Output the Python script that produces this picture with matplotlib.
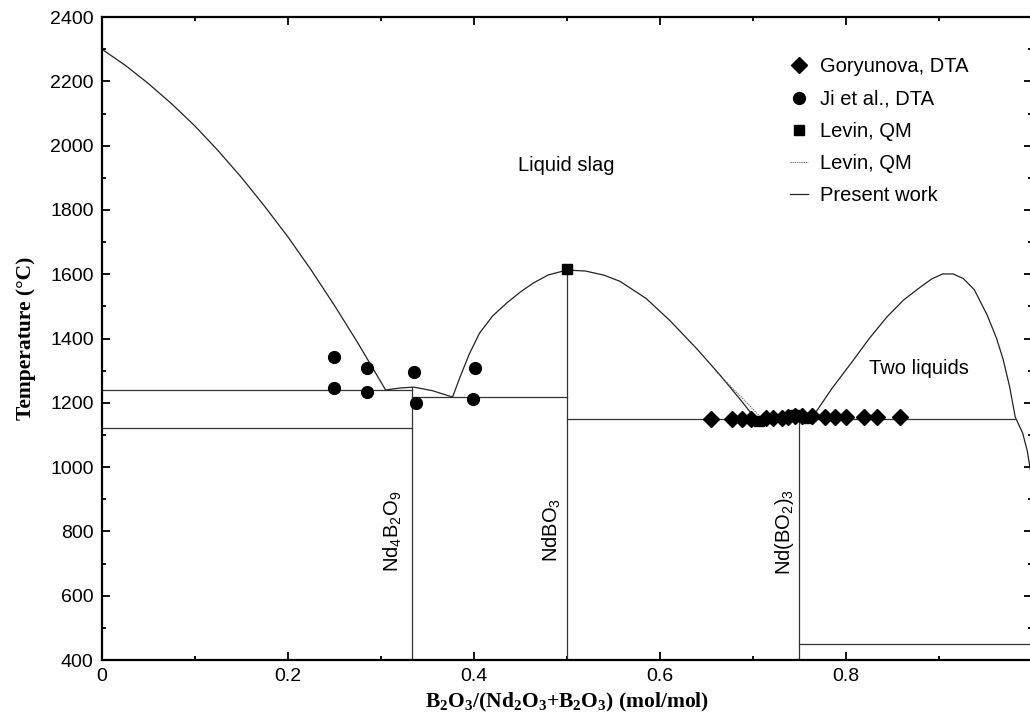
import numpy as np
import matplotlib
matplotlib.use('Agg')
import matplotlib.pyplot as plt
from matplotlib.ticker import MultipleLocator

plt.rcParams['font.family'] = ['Liberation Sans', 'DejaVu Sans']
plt.rcParams['mathtext.default'] = 'regular'

# ---------- 数据 ----------
# 液相线 (Present work)
liq1_x = [0.0, 0.025, 0.05, 0.075, 0.10, 0.125, 0.15, 0.175, 0.20, 0.225, 0.25, 0.275, 0.305]
liq1_T = [2300, 2250, 2193, 2130, 2061, 1984, 1901, 1811, 1716, 1613, 1503, 1387, 1240]

liq2_x = [0.305, 0.32, 0.335, 0.355, 0.377]
liq2_T = [1240, 1246, 1249, 1238, 1218]

liq3_x = [0.377, 0.385, 0.395, 0.406, 0.42, 0.435, 0.45, 0.464, 0.48, 0.50,
          0.52, 0.54, 0.557, 0.585, 0.611, 0.64, 0.665, 0.685, 0.703]
liq3_T = [1218, 1280, 1352, 1417, 1470, 1510, 1545, 1573, 1598, 1613,
          1610, 1597, 1578, 1525, 1455, 1367, 1285, 1215, 1150]

liq4_x = [0.703, 0.73, 0.75, 0.765]
liq4_T = [1150, 1158, 1162, 1160]

gap_x = [0.765, 0.785, 0.808, 0.825, 0.844, 0.862, 0.880, 0.892, 0.904, 0.915,
         0.926, 0.938, 0.952, 0.962, 0.969, 0.976, 0.982, 0.990, 0.995, 1.0]
gap_T = [1160, 1245, 1333, 1400, 1467, 1520, 1560, 1585, 1601, 1601,
         1587, 1552, 1472, 1400, 1335, 1250, 1156, 1106, 1050, 960]

# Levin QM 虚线
levin_x = [0.66, 0.685, 0.71]
levin_T = [1298, 1225, 1150]

# 水平线 (共晶 / 转变温度): (x起, x止, T)
hlines = [(0.0, 0.333, 1240), (0.0, 0.333, 1122), (0.333, 0.5, 1218),
          (0.5, 0.982, 1150), (0.75, 1.0, 450)]
# 化合物竖线: (x, T上)
vlines = [(0.3333, 1249), (0.5, 1613), (0.75, 1160)]

# 实验点
gory_x = [0.655, 0.677, 0.688, 0.698, 0.714, 0.722, 0.731, 0.738, 0.745, 0.753,
          0.763, 0.778, 0.788, 0.800, 0.819, 0.833, 0.858]
gory_T = [1150, 1150, 1150, 1150, 1152, 1153, 1154, 1156, 1158, 1160,
          1158, 1155, 1155, 1155, 1156, 1156, 1157]
ji_x = [0.25, 0.25, 0.285, 0.285, 0.335, 0.338, 0.401, 0.399]
ji_T = [1342, 1246, 1308, 1234, 1296, 1199, 1308, 1212]
levin_pts_x = [0.5, 0.706, 0.745, 0.749, 0.759]
levin_pts_T = [1615, 1143, 1162, 1160, 1153]

# ---------- 绘图 ----------
fig = plt.figure(figsize=(10.3, 7.23), dpi=100)
ax = fig.add_axes([0.0990, 0.0871, 0.9029, 0.8893])

lc = '#222222'
ax.plot(liq1_x, liq1_T, color=lc, lw=0.9, label='Present work')
for xs, ts in [(liq2_x, liq2_T), (liq3_x, liq3_T), (liq4_x, liq4_T), (gap_x, gap_T)]:
    ax.plot(xs, ts, color=lc, lw=0.9)
for x0, x1, t in hlines:
    ax.plot([x0, x1], [t, t], color='#333333', lw=0.9)
for x, t in vlines:
    ax.plot([x, x], [400, t], color='#333333', lw=0.9)
ax.plot(levin_x, levin_T, color='#555555', lw=0.8, ls=(0, (1, 1)), label='Levin, QM')

ax.plot(gory_x, gory_T, 'D', color='k', ms=8, ls='none', label='Goryunova, DTA')
ax.plot(ji_x, ji_T, 'o', color='k', ms=8.5, ls='none', label='Ji et al., DTA')
ax.plot(levin_pts_x, levin_pts_T, 's', color='k', ms=7, ls='none', label='Levin, QM ')

# 文字
ax.text(0.499, 1937, 'Liquid slag', fontsize=14.5, ha='center', va='center')
ax.text(0.878, 1308, 'Two liquids', fontsize=14.5, ha='center', va='center')
ax.text(0.313, 800, 'Nd$_4$B$_2$O$_9$', fontsize=14.5, rotation=90, ha='center', va='center')
ax.text(0.484, 804, 'NdBO$_3$', fontsize=14.5, rotation=90, ha='center', va='center')
ax.text(0.734, 800, 'Nd(BO$_2$)$_3$', fontsize=14.5, rotation=90, ha='center', va='center')

ax.set_xlim(0, 1.0)
ax.set_ylim(400, 2400)
ax.xaxis.set_major_locator(MultipleLocator(0.2))
ax.xaxis.set_minor_locator(MultipleLocator(0.1))
ax.yaxis.set_major_locator(MultipleLocator(200))
ax.yaxis.set_minor_locator(MultipleLocator(100))
ax.set_xticks([0, 0.2, 0.4, 0.6, 0.8])
ax.set_xticklabels(['0', '0.2', '0.4', '0.6', '0.8'])
ax.tick_params(which='both', direction='in', top=True, right=True, labelsize=14, width=1.3)
ax.tick_params(which='major', length=6, pad=6)
ax.tick_params(which='minor', length=3)
for s in ax.spines.values():
    s.set_linewidth(1.6)

ax.set_xlabel('B$_2$O$_3$/(Nd$_2$O$_3$+B$_2$O$_3$) (mol/mol)', family='Liberation Serif',
              fontweight='bold', fontsize=15.5, labelpad=4)
ax.set_ylabel('Temperature (\u00b0C)', family='Liberation Serif', fontweight='bold',
              fontsize=15.5, labelpad=10)

h, l = ax.get_legend_handles_labels()
order = [l.index('Goryunova, DTA'), l.index('Ji et al., DTA'), l.index('Levin, QM '),
         l.index('Levin, QM'), l.index('Present work')]
leg = ax.legend([h[i] for i in order], [l[i].strip() for i in order], loc='upper left',
                bbox_to_anchor=(0.731, 0.95), frameon=False, fontsize=14.5,
                handlelength=0.9, handletextpad=0.6, labelspacing=0.66, borderaxespad=0)

fig.savefig('out.png', dpi=100)
